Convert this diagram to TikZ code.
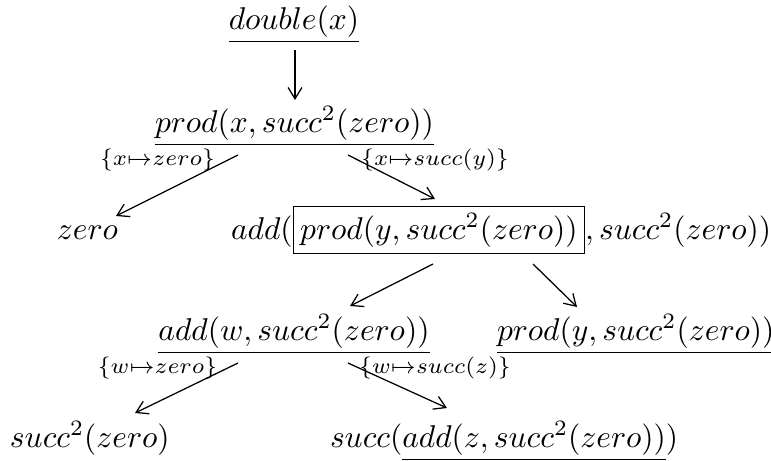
\documentclass[tikz,border=0pt]{standalone}
\usetikzlibrary{arrows.meta}
\begin{document}
\begin{tikzpicture}[x=0.3175pt,y=-0.3175pt,
  term/.style={inner sep=0pt,outer sep=0pt,anchor=base},
  termw/.style={inner sep=0pt,outer sep=0pt,anchor=base west},
  lab/.style={inner sep=0pt,outer sep=0pt,anchor=base},
  arr/.style={-{Straight Barb[length=3.6pt,width=4.4pt]},line width=0.4pt}]
\setlength{\fboxsep}{2pt}
\useasboundingbox (0,0) rectangle (771,460);
% terms
\node[term]  (double) at (294,29)  {$\underline{double(x)}$};
\node[term]  (prodx)  at (294.5,132) {$\underline{prod(x,succ^2(zero))}$};
\node[term]  (zero)   at (87.5,239) {$zero$};
\node[termw] (add)    at (231,239) {$add(\fbox{$prod(y,succ^2(zero))$},succ^2(zero))$};
\node[term]  (addw)   at (294,340) {$\underline{add(w,succ^2(zero))}$};
\node[termw] (prody)  at (497,340) {$\underline{prod(y,succ^2(zero))}$};
\node[termw] (succ2)  at (10,447)  {$succ^2(zero)$};
\node[termw] (succadd) at (330,447) {$succ(\underline{add(z,succ^2(zero))})$};
% labels
\node[lab] (l1) at (157.5,165) {$\scriptstyle\{x\mapsto zero\}$};
\node[lab] (l2) at (435,165)   {$\scriptstyle\{x\mapsto succ(y)\}$};
\node[lab] (l3) at (157.5,373) {$\scriptstyle\{w\mapsto zero\}$};
\node[lab] (l4) at (435,373)   {$\scriptstyle\{w\mapsto succ(z)\}$};
% connector ends
\coordinate (d0) at (295,50);   \coordinate (d1) at (295,100);
\coordinate (p0) at (238,155);  \coordinate (p1) at (116,216);
\coordinate (q0) at (348,155);  \coordinate (q1) at (435,199);
\coordinate (r0) at (433,264);  \coordinate (r1) at (350,306);
\coordinate (s0) at (533,264);  \coordinate (s1) at (577,307);
\coordinate (t0) at (238,363);  \coordinate (t1) at (135,413);
\coordinate (u0) at (348,363);  \coordinate (u1) at (447,408);
\draw[arr] (d0) -- (d1);
\draw[arr] (p0) -- (p1);
\draw[arr] (q0) -- (q1);
\draw[arr] (r0) -- (r1);
\draw[arr] (s0) -- (s1);
\draw[arr] (t0) -- (t1);
\draw[arr] (u0) -- (u1);
\end{tikzpicture}
\end{document}
